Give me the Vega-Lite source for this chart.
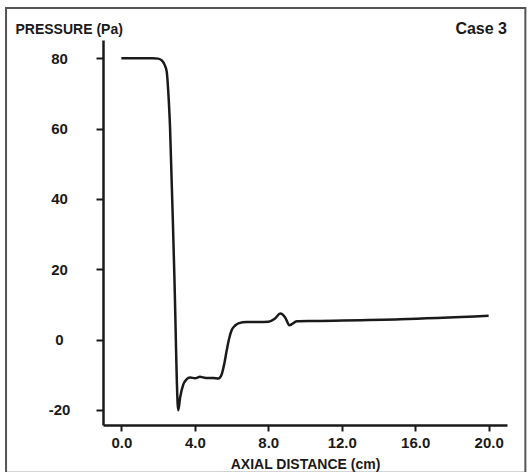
{
  "$schema": "https://vega.github.io/schema/vega-lite/v6.json",
  "width": 404,
  "height": 385,
  "autosize": {"type": "none"},
  "padding": {"left": 103, "top": 40, "right": 24, "bottom": 47},
  "background": "white",
  "config": {
    "view": {"stroke": null},
    "font": "Liberation Sans",
    "axis": {"grid": false, "domainColor": "#1a1a1a", "tickColor": "#1a1a1a", "labelColor": "#1a1a1a", "titleColor": "#1a1a1a", "labelFont": "Liberation Sans", "titleFont": "Liberation Sans", "labelFontWeight": "bold", "titleFontWeight": "bold"}
  },
  "title": {"text": "Case 3", "anchor": "end", "frame": "group", "font": "Liberation Sans", "fontSize": 16, "fontWeight": "bold", "color": "#1a1a1a", "offset": 0, "dy": 30},
  "layer": [
    {
      "data": {"values": [{}]},
      "mark": {"type": "rect", "fill": null, "stroke": "#555555", "strokeWidth": 2},
      "encoding": {
        "x": {"datum": -6.28, "type": "quantitative", "scale": {"domain": [-1, 21]}},
        "x2": {"datum": 22.0},
        "y": {"datum": 94.3, "type": "quantitative", "scale": {"domain": [-24.3, 85.2]}},
        "y2": {"datum": -37.9}
      }
    },
    {
      "data": {"values": [
        {"d": 0, "p": 80.0},
        {"d": 1.0, "p": 80.0},
        {"d": 1.7, "p": 80.0},
        {"d": 2.0, "p": 79.9},
        {"d": 2.2, "p": 79.4},
        {"d": 2.35, "p": 78.2},
        {"d": 2.47, "p": 76.2},
        {"d": 2.56, "p": 70.0},
        {"d": 2.65, "p": 60.5},
        {"d": 2.88, "p": 19.3},
        {"d": 3.1, "p": -20.1},
        {"d": 3.2, "p": -16.5},
        {"d": 3.37, "p": -12.8},
        {"d": 3.55, "p": -11.3},
        {"d": 3.74, "p": -10.8},
        {"d": 4.01, "p": -11.0},
        {"d": 4.28, "p": -10.6},
        {"d": 4.6, "p": -10.9},
        {"d": 5.01, "p": -10.9},
        {"d": 5.28, "p": -11.1},
        {"d": 5.47, "p": -9.8},
        {"d": 5.6, "p": -7.0},
        {"d": 5.74, "p": -3.0},
        {"d": 5.88, "p": 0.5},
        {"d": 6.01, "p": 2.7},
        {"d": 6.2, "p": 4.0},
        {"d": 6.37, "p": 4.6},
        {"d": 6.83, "p": 5.0},
        {"d": 7.5, "p": 5.0},
        {"d": 8.01, "p": 5.1},
        {"d": 8.37, "p": 6.0},
        {"d": 8.65, "p": 7.4},
        {"d": 8.92, "p": 6.3},
        {"d": 9.15, "p": 4.1},
        {"d": 9.56, "p": 5.2},
        {"d": 10.5, "p": 5.3},
        {"d": 15.19, "p": 5.8},
        {"d": 20.0, "p": 6.8}
      ]},
      "mark": {"type": "line", "interpolate": "monotone", "color": "#1a1a1a", "strokeWidth": 2.5},
      "encoding": {
        "x": {
          "field": "d", "type": "quantitative",
          "scale": {"domain": [-1, 21], "nice": false, "zero": false},
          "axis": {
            "values": [0, 4, 8, 12, 16, 20], "format": ".1f",
            "title": "AXIAL DISTANCE (cm)", "titleFontSize": 14, "titleBaseline": "alphabetic", "titleY": 43,
            "labelFontSize": 15, "labelPadding": 4,
            "tickSize": 6, "tickWidth": 2, "domainWidth": 2.5
          }
        },
        "y": {
          "field": "p", "type": "quantitative",
          "scale": {"domain": [-24.3, 85.2], "nice": false, "zero": false},
          "axis": {
            "values": [-20, 0, 20, 40, 60, 80],
            "labelExpr": "'' + datum.value",
            "title": "PRESSURE (Pa)", "titleFontSize": 14, "titleAngle": 0, "titleAlign": "left", "titleBaseline": "alphabetic", "titleX": -88, "titleY": -7,
            "labelFontSize": 15, "labelAlign": "center", "labelPadding": 37,
            "tickSize": 7, "tickWidth": 2, "domainWidth": 2.5
          }
        }
      }
    }
  ]
}
